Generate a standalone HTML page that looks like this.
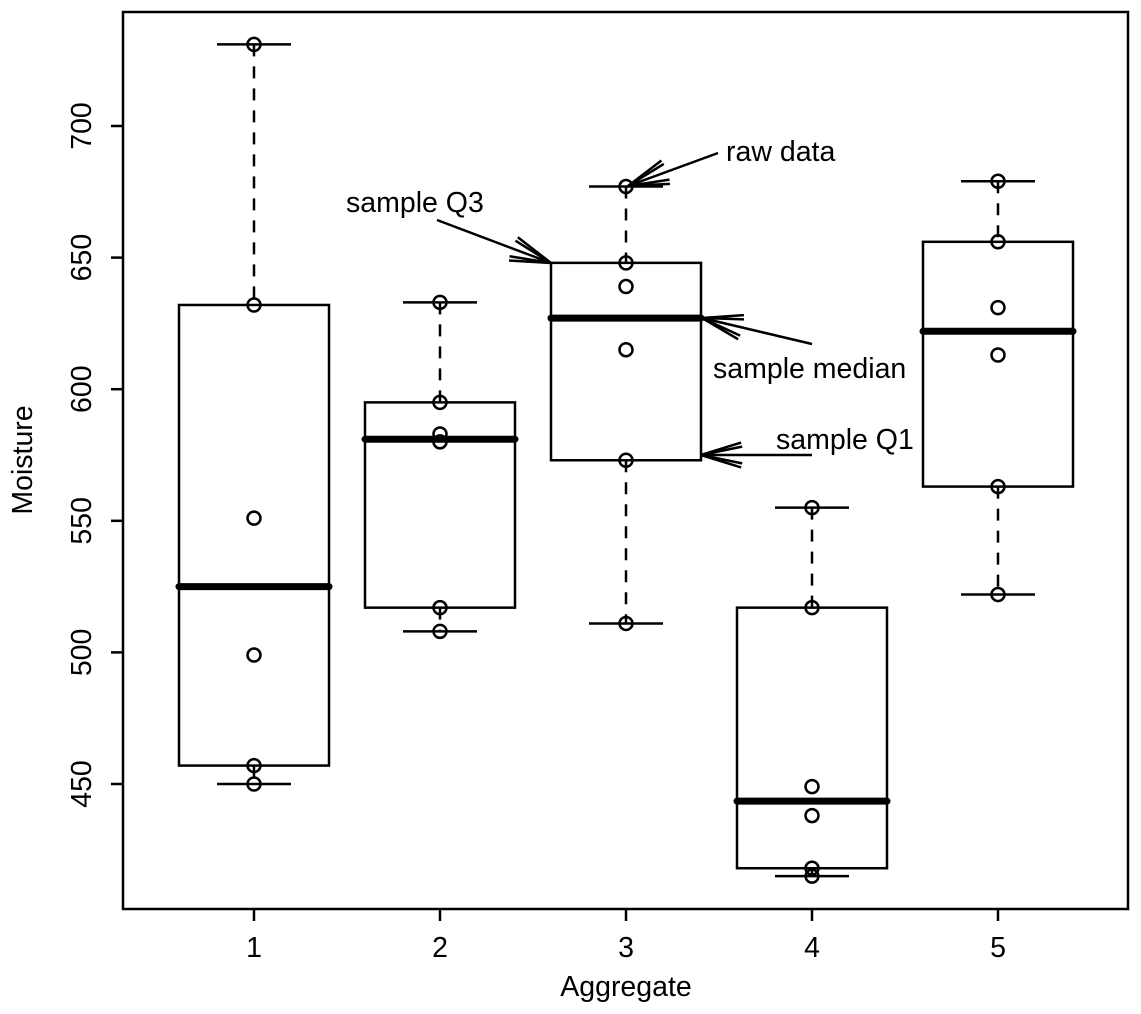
<!DOCTYPE html>
<html><head><meta charset="utf-8"><style>
body{margin:0;background:#fff}
svg text{font-family:"Liberation Sans",Arial,sans-serif;font-size:28.5px;fill:#000}
</style></head><body>
<svg id="chart" width="1141" height="1009" viewBox="0 0 1141 1009" xmlns="http://www.w3.org/2000/svg">
<rect x="123" y="12" width="1005" height="897" fill="none" stroke="#000" stroke-width="2.5"/>
<g id="axes"></g>
<g id="boxes"></g>
<g id="annot"></g>
<text x="626" y="996" text-anchor="middle">Aggregate</text>
<text transform="translate(32,460) rotate(-90)" text-anchor="middle">Moisture</text>
</svg>
<script>
const categories=["1","2","3","4","5"];
const g1=[731,632,551,499,457,450];
const g2=[633,595,583,580,517,508];
const g3=[677,648,639,615,573,511];
const g4=[555,517,449,438,418,415];
const g5=[679,656,631,613,563,522];
const groups=[g1,g2,g3,g4,g5];
const q1s=[457,517,573,418,563];
const medians=[525,581,627,443.5,622];
const q3s=[632,595,648,517,656];
const yTicks=[450,500,550,600,650,700];

const NS="http://www.w3.org/2000/svg";
const y=v=>126+(700-v)*2.632;
const x=i=>254+i*186;
function mk(tag,attrs,parent){const e=document.createElementNS(NS,tag);for(const k in attrs)e.setAttribute(k,attrs[k]);parent.appendChild(e);return e;}
const axes=document.getElementById('axes');
const boxes=document.getElementById('boxes');
const annot=document.getElementById('annot');
const S={stroke:"#000","stroke-width":2.5,fill:"none"};

yTicks.forEach(t=>{
  const l=mk('line',Object.assign({x1:111,x2:123,y1:y(t),y2:y(t)},S),axes);
  
  
  const tx=mk('text',{transform:`translate(91,${y(t)}) rotate(-90)`,'text-anchor':'middle'},axes);
  tx.textContent=t;
  
  
});
categories.forEach((c,i)=>{
  const l=mk('line',Object.assign({x1:x(i),x2:x(i),y1:909,y2:921},S),axes);
  
  
  const tx=mk('text',{x:x(i),y:957,'text-anchor':'middle'},axes);
  tx.textContent=c;
  
  
});

groups.forEach((d,i)=>{
  const cx=x(i),mx=Math.max(...d),mn=Math.min(...d);
  const g=mk('g',{},boxes);
  
  
  mk('line',Object.assign({x1:cx,x2:cx,y1:y(mx),y2:y(q3s[i]),'stroke-dasharray':'12,10'},S),g);
  mk('line',Object.assign({x1:cx,x2:cx,y1:y(q1s[i]),y2:y(mn),'stroke-dasharray':'12,10'},S),g);
  mk('line',Object.assign({x1:cx-37,x2:cx+37,y1:y(mx),y2:y(mx)},S),g);
  mk('line',Object.assign({x1:cx-37,x2:cx+37,y1:y(mn),y2:y(mn)},S),g);
  const b=mk('rect',Object.assign({x:cx-75,width:150,y:y(q3s[i]),height:y(q1s[i])-y(q3s[i])},S),g);
  
  
  const m=mk('line',{x1:cx-75,x2:cx+75,y1:y(medians[i]),y2:y(medians[i]),stroke:"#000","stroke-width":7,"stroke-linecap":"round"},g);
  
  
  d.forEach(v=>{
    const p=mk('circle',Object.assign({cx:cx,cy:y(v),r:6.5},S),g);
    
    
  });
});

function arrow(x1,y1,x2,y2){
  mk('line',Object.assign({x1,y1,x2,y2},S),annot);
  const a=Math.atan2(y1-y2,x1-x2),L=42;
  [0.3,-0.3,0.2,-0.2].forEach(o=>{
    mk('line',Object.assign({x1:x2,y1:y2,x2:x2+L*Math.cos(a+o),y2:y2+L*Math.sin(a+o)},S),annot);
  });
}
arrow(718,153,628,186);
arrow(437,220,551,263);
arrow(812,344,702,318);
arrow(812,455,701,455);
[["raw data",726,161],["sample Q3",346,212],["sample median",713,378],["sample Q1",776,449]].forEach(t=>{
  const e=mk('text',{x:t[1],y:t[2]},annot);e.textContent=t[0];
});
</script>
</body></html>
